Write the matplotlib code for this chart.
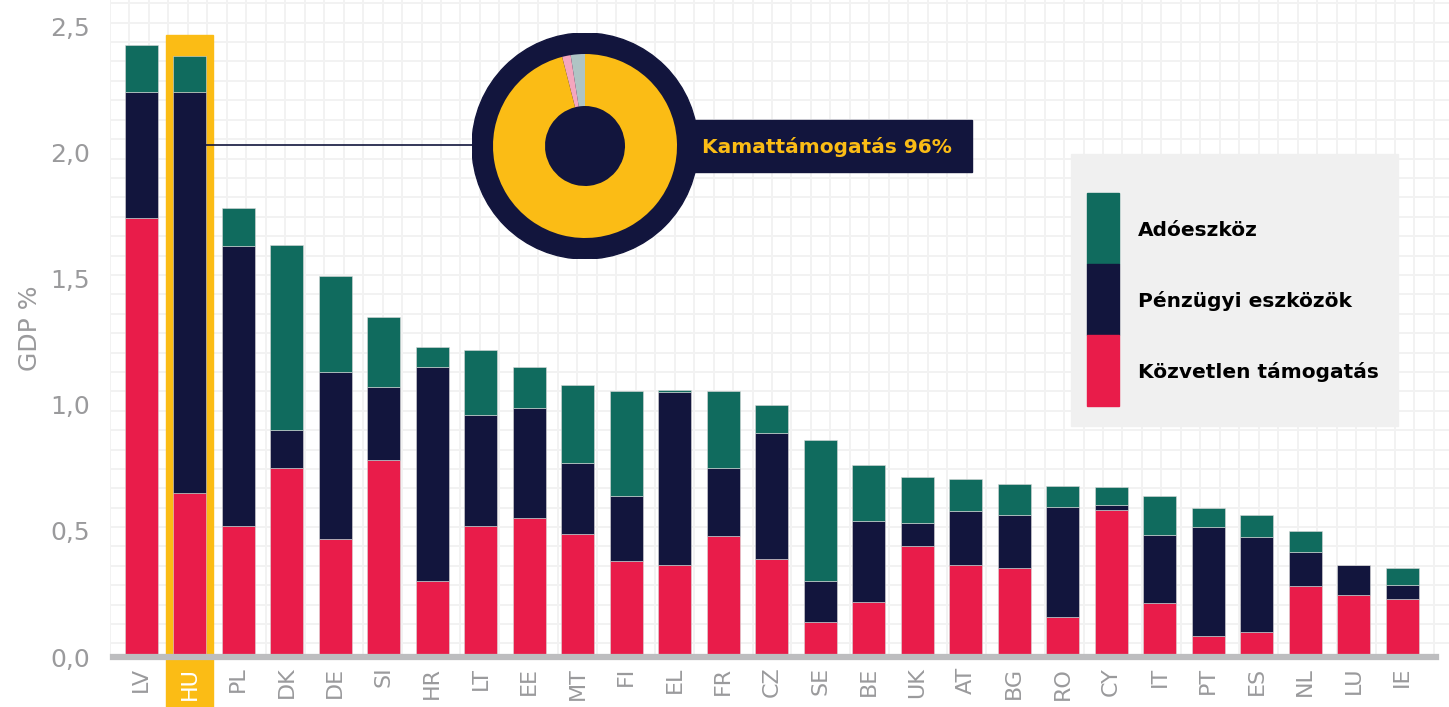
import numpy as np
import matplotlib
matplotlib.use("Agg")
import matplotlib.pyplot as plt
from matplotlib.patches import Rectangle, Circle

# ── Data ──────────────────────────────────────────────────────────────────────
countries = ["LV", "HU", "PL", "DK", "DE", "SI", "HR", "LT", "EE", "MT", "FI", "EL", "FR", "CZ",
             "SE", "BE", "UK", "AT", "BG", "RO", "CY", "IT", "PT", "ES", "NL", "LU", "IE"]
direct    = [1.74, 0.65, 0.52, 0.75, 0.47, 0.78, 0.30, 0.52, 0.55, 0.49, 0.38, 0.365, 0.48, 0.39,
             0.14, 0.22, 0.44, 0.365, 0.355, 0.16, 0.585, 0.215, 0.085, 0.10, 0.28, 0.245, 0.23]
financial = [0.50, 1.59, 1.11, 0.15, 0.66, 0.29, 0.85, 0.44, 0.44, 0.28, 0.26, 0.685, 0.27, 0.50,
             0.16, 0.32, 0.09, 0.215, 0.21, 0.435, 0.02, 0.27, 0.43, 0.375, 0.135, 0.12, 0.055]
tax       = [0.19, 0.145, 0.15, 0.735, 0.38, 0.28, 0.08, 0.26, 0.16, 0.31, 0.415, 0.01, 0.305, 0.11,
             0.56, 0.22, 0.185, 0.125, 0.12, 0.085, 0.07, 0.155, 0.075, 0.09, 0.085, 0.0, 0.07]
series_names = ["Adóeszköz", "Pénzügyi eszközök", "Közvetlen támogatás"]
yticks = [0.0, 0.5, 1.0, 1.5, 2.0, 2.5]

highlight = "HU"
donut_labels = ["Egyéb 1", "Egyéb 2", "Kamattámogatás"]
donut_shares = [2.5, 1.5, 96]

# ── Style ─────────────────────────────────────────────────────────────────────
RED, NAVY, GREEN = "#E91C4A", "#12153D", "#106B5E"
YELLOW, GREY_TXT, AXIS_GREY = "#FBBC15", "#9A9A9C", "#BDBDBF"
DONUT_COLORS = ["#AFC4C4", "#F4A6BE", YELLOW]
plt.rcParams["font.family"] = ["DejaVu Sans"]

W, H = 1449, 707
fig = plt.figure(figsize=(W / 100, H / 100), dpi=100)

def fx(px):
    return px / W

def fy(py):
    return 1 - py / H

# background square grid
bg = fig.add_axes([fx(110), fy(655), 1 - fx(110), 655 / H], zorder=0)
bg.set_xlim(110, W)
bg.set_ylim(655, 0)
bg.set_xticks(np.arange(110, W, 19.47))
bg.set_yticks(np.arange(3.3, 655, 19.4))
bg.grid(True, color="#F2F2F2", linewidth=1.4)
bg.tick_params(length=0, labelbottom=False, labelleft=False)
for s in bg.spines.values():
    s.set_visible(False)

# ── Main bars ─────────────────────────────────────────────────────────────────
ax = fig.add_axes([fx(113), fy(657), fx(1436) - fx(113), 657 / H], zorder=1)
ax.patch.set_alpha(0)
x = np.arange(len(countries))
d = np.array(direct)
f = np.array(financial)
t = np.array(tax)
bw = 0.68
ax.bar(x, d, bw, color=RED, edgecolor="#d9d9d9", linewidth=0.4, zorder=3)
ax.bar(x, f, bw, bottom=d, color=NAVY, edgecolor="#d9d9d9", linewidth=0.4, zorder=3)
ax.bar(x, t, bw, bottom=d + f, color=GREEN, edgecolor="#d9d9d9", linewidth=0.4, zorder=3)

ax.set_xlim(-0.58, 26.7)
ax.set_ylim(0, 2.607)

hi = countries.index(highlight)
ax.add_patch(Rectangle((hi - 0.485, -0.25), 0.97, 2.47 + 0.25, color=YELLOW,
                       zorder=1, clip_on=False))
ax.axhline(0, color=AXIS_GREY, linewidth=4.5, zorder=4, clip_on=False)

ax.set_yticks(yticks)
ax.set_yticklabels([f"{v:.1f}".replace(".", ",") for v in yticks],
                   fontsize=18, color=GREY_TXT)
ax.set_xticks(x)
ax.set_xticklabels(countries, rotation=90, fontsize=16, color=GREY_TXT)
ax.get_xticklabels()[hi].set_color("white")
ax.tick_params(axis="y", length=0, pad=16.5)
ax.tick_params(axis="x", length=0, pad=7)
ax.set_ylabel("GDP %", fontsize=18, color=GREY_TXT, labelpad=6)
for s in ax.spines.values():
    s.set_visible(False)
ax.set_axisbelow(False)
ax.xaxis.set_zorder(5)

# ── Donut callout ─────────────────────────────────────────────────────────────
cx, cy, R = 585, 146, 113
dax = fig.add_axes([fx(cx - R), fy(cy + R), 2 * R / W, 2 * R / H], zorder=5)
dax.axis("off")
dax.add_patch(Circle((0, 0), 1, color=NAVY, zorder=1))
dax.pie(donut_shares, colors=DONUT_COLORS, startangle=90, counterclock=True,
        radius=92 / R, wedgeprops=dict(width=52 / R, linewidth=0))
dax.set_xlim(-1, 1)
dax.set_ylim(-1, 1)
dax.set_aspect("auto")
dax.add_patch(Rectangle((0.95, -0.23), 2.475, 0.46, color=NAVY, zorder=0.5, clip_on=False))
dax.text(1.035, -0.01, f"{donut_labels[-1]} {donut_shares[-1]:.0f}%", color=YELLOW,
         fontsize=14.5, fontweight="bold", ha="left", va="center", clip_on=False)

# connector from the highlighted bar to the donut
ax.plot([hi + bw / 2, (cx - R - 141) / 48.5], [2.03, 2.03], color=NAVY, linewidth=1.2,
        zorder=3, clip_on=False)

# ── Legend ────────────────────────────────────────────────────────────────────
fig.patches.append(Rectangle((fx(1071), fy(426)), fx(1398) - fx(1071), (426 - 154) / H,
                             transform=fig.transFigure, color="#F0F0F0", zorder=2))
leg_colors = [GREEN, NAVY, RED]
for i, (name, col) in enumerate(zip(series_names, leg_colors)):
    top = 193 + i * 71
    fig.patches.append(Rectangle((fx(1087), fy(top + 71)), fx(32), 71 / H,
                                 transform=fig.transFigure, color=col, zorder=3))
    fig.text(fx(1138), fy(top + 37), name, fontsize=14.5, fontweight="bold",
             color="black", va="center", ha="left", zorder=4)

fig.savefig("out.png", dpi=100)
